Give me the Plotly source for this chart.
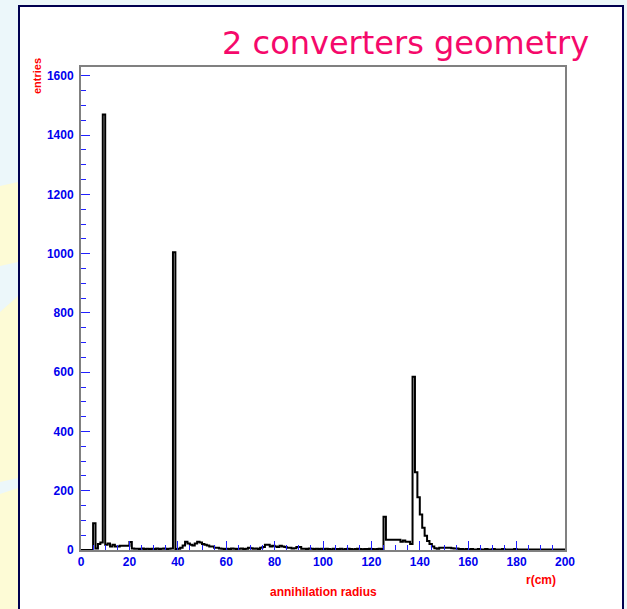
import plotly.graph_objects as go

# Annihilation radius histogram, 1 cm bins from 0 to 200 cm
bin_edges = list(range(0, 201))
entries = [
    0, 0, 0, 0, 0, 90, 5, 20, 25, 1470,            # 0-9
    18, 22, 12, 18, 12, 12, 14, 14, 14, 14,         # 10-19
    27, 5, 4, 4, 3, 5, 3, 4, 3, 4,                  # 20-29
    3, 5, 3, 4, 5, 3, 4, 5, 1005, 3,                # 30-39
    4, 8, 15, 28, 22, 18, 15, 22, 28, 25,           # 40-49
    20, 18, 15, 12, 12, 8, 8, 5, 4, 3,              # 50-59
    4, 3, 5, 4, 3, 4, 5, 3, 4, 8,                   # 60-69
    6, 4, 5, 3, 8, 10, 18, 18, 12, 14,              # 70-79
    12, 10, 14, 12, 10, 8, 8, 5, 6, 10,             # 80-89
    10, 4, 4, 3, 5, 4, 3, 4, 3, 4,                  # 90-99
    3, 4, 3, 2, 4, 3, 3, 4, 2, 3,                   # 100-109
    4, 3, 2, 3, 4, 3, 2, 3, 3, 4,                   # 110-119
    3, 2, 3, 4, 3, 112, 35, 35, 35, 35,             # 120-129
    35, 35, 28, 32, 28, 28, 20, 585, 262, 178,      # 130-139
    120, 75, 48, 30, 20, 12, 6, 4, 8, 8,            # 140-149
    8, 8, 8, 6, 5, 5, 3, 3, 2, 3,                   # 150-159
    2, 3, 2, 2, 3, 2, 2, 3, 2, 2,                   # 160-169
    3, 2, 2, 2, 3, 2, 2, 2, 2, 3,                   # 170-179
    2, 2, 2, 2, 2, 2, 2, 2, 2, 2,                   # 180-189
    2, 2, 2, 2, 2, 2, 2, 2, 2, 2,                   # 190-199
]

title_text = "2 converters geometry"
x_title = "annihilation radius"
x_unit = "r(cm)"
y_title = "entries"

W, H = 627, 609
L, R, T, B = 81, 565, 67, 550  # plot frame in pixels


def px(xp):
    return (xp - L) / (R - L)


def py(yp):
    return (B - yp) / (B - T)


# step outline of the histogram
step_x = bin_edges[:-1] + [bin_edges[-1]]
step_y = entries + [entries[-1]]

fig = go.Figure()
fig.add_trace(go.Scatter(
    x=step_x, y=step_y, mode="lines", line_shape="hv",
    line=dict(color="black", width=2), hoverinfo="skip", showlegend=False,
))

shapes = []
# pale yellow decorations on the left strip
yellow = "#fdfbd6"
for pts in [
    [(0, 186), (18, 182), (18, 262), (0, 266)],
    [(0, 312), (18, 296), (18, 478), (0, 482)],
    [(0, 494), (18, 488), (18, 609), (0, 609)],
]:
    path = "M " + " L ".join(f"{px(a)},{py(b)}" for a, b in pts) + " Z"
    shapes.append(dict(type="path", path=path, xref="paper", yref="paper",
                       fillcolor=yellow, line=dict(width=0), layer="below"))
# white slide panel with a dark border
shapes.append(dict(type="rect", xref="paper", yref="paper",
                   x0=px(19), x1=px(623), y0=py(612), y1=py(6),
                   fillcolor="white", line=dict(color="#000050", width=2),
                   layer="below"))

annotations = [
    dict(text=title_text, x=px(591), y=py(43), xref="paper", yref="paper",
         xanchor="right", yanchor="middle", showarrow=False,
         font=dict(family="DejaVu Sans", size=32, color="#f5096b")),
    dict(text=y_title, x=px(37), y=py(76), xref="paper", yref="paper",
         textangle=-90, xanchor="center", yanchor="middle", showarrow=False,
         font=dict(family="Liberation Sans", size=11, color="#ff0000", weight="bold")),
    dict(text=x_unit, x=px(541), y=py(580), xref="paper", yref="paper",
         xanchor="center", yanchor="middle", showarrow=False,
         font=dict(family="Liberation Sans", size=12, color="#ff0000", weight="bold")),
    dict(text=x_title, x=px(323), y=py(592), xref="paper", yref="paper",
         xanchor="center", yanchor="middle", showarrow=False,
         font=dict(family="Liberation Sans", size=12, color="#ff0000", weight="bold")),
]

tick_font = dict(family="Liberation Sans", size=12, color="#0000ee", weight="bold")

fig.update_layout(
    width=W, height=H,
    margin=dict(l=L, r=W - R, t=T, b=H - B),
    paper_bgcolor="#ecf7fa",
    plot_bgcolor="rgba(0,0,0,0)",
    shapes=shapes,
    annotations=annotations,
    xaxis=dict(
        range=[0, 200], showgrid=False, zeroline=False,
        showline=True, linecolor="#808080", linewidth=2, mirror=True,
        ticks="inside", tick0=0, dtick=20, ticklen=9, tickwidth=1,
        tickcolor="#2020ff", tickfont=tick_font,
        minor=dict(ticks="inside", dtick=5, ticklen=5, tickwidth=1,
                   tickcolor="#2020ff", showgrid=False),
    ),
    yaxis=dict(
        range=[0, 1630], showgrid=False, zeroline=False,
        showline=True, linecolor="#808080", linewidth=2, mirror=True,
        ticks="inside", tick0=0, dtick=200, ticklen=9, tickwidth=1,
        tickcolor="#2020ff", tickfont=tick_font, ticklabelstandoff=3,
        minor=dict(ticks="inside", dtick=50, ticklen=5, tickwidth=1,
                   tickcolor="#2020ff", showgrid=False),
    ),
)

fig.write_html("out.html")
